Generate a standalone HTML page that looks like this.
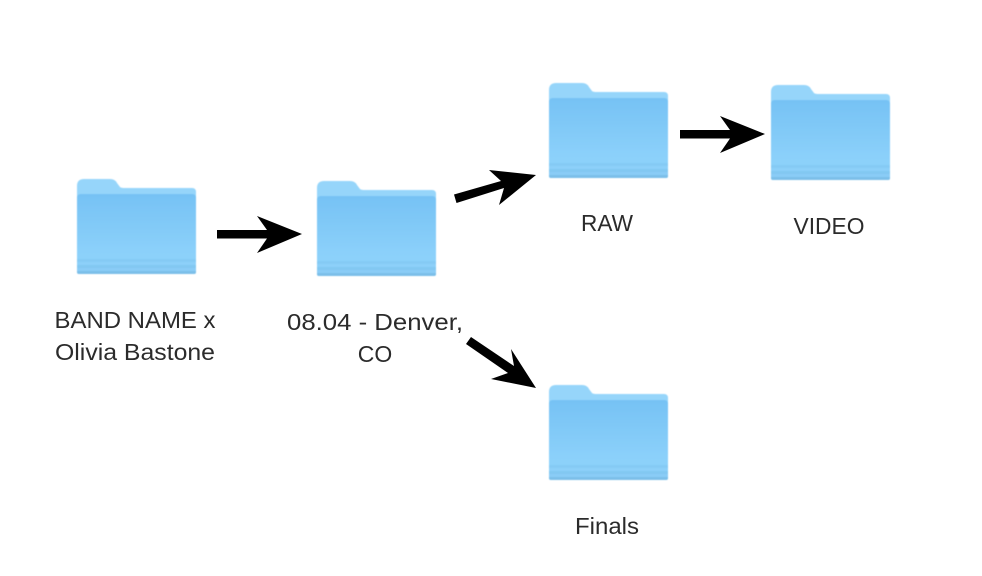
<!DOCTYPE html>
<html>
<head>
<meta charset="utf-8">
<style>
html,body{margin:0;padding:0;background:#fff}
body{width:982px;height:576px;overflow:hidden;position:relative}
svg{position:absolute;left:0;top:0}
text{font-family:"Liberation Sans",sans-serif;font-size:23px;fill:#2b2b2b;text-anchor:middle}
</style>
</head>
<body>
<svg width="982" height="576" viewBox="0 0 982 576" xmlns="http://www.w3.org/2000/svg">
<defs>
<linearGradient id="f" x1="0" y1="0" x2="0" y2="1">
<stop offset="0" stop-color="#76c2f4"/>
<stop offset="0.7" stop-color="#8bd0fa"/>
<stop offset="1" stop-color="#8fd3fb"/>
</linearGradient>
<filter id="soft" x="-5%" y="-5%" width="110%" height="110%">
<feGaussianBlur stdDeviation="0.6"/>
</filter>
<g id="folder" filter="url(#soft)">
<path d="M0 7 Q0 0 7 0 H33 Q38 0 40 4 L43 8 Q44 9 48 9 H115 Q119 9 119 13 V30 H0Z" fill="#96d5fa"/>
<path d="M0 19 Q0 15 4 15 H115 Q119 15 119 19 V93 Q119 95 117 95 H2 Q0 95 0 93Z" fill="url(#f)"/>
<rect x="0" y="80" width="119" height="3" fill="#85caf4"/>
<rect x="0" y="83" width="119" height="3" fill="#8dd0f9"/>
<rect x="0" y="86" width="119" height="3" fill="#82c8f2"/>
<rect x="0" y="89" width="119" height="3" fill="#8accf6"/>
<path d="M0 92 H119 V93 Q119 95 117 95 H2 Q0 95 0 93Z" fill="#7cbfe9"/>
</g>
</defs>
<use href="#folder" x="77" y="179"/>
<use href="#folder" x="317" y="181"/>
<use href="#folder" x="549" y="83"/>
<use href="#folder" x="771" y="85"/>
<use href="#folder" x="549" y="385"/>
<polygon points="217,230 267,230 257,216 302,234 257,253 267,238.5 217,238.5" fill="#000"/>
<polygon points="680,130 730,130 720,116 765,134 720,153 730,138.5 680,138.5" fill="#000"/>
<polygon points="454,194.5 501,181 489,170 536,175 499,205 504,188 456.5,203" fill="#000"/>
<polygon points="471,337 514,366 511,349 536,388 491,379 508,373 466,344" fill="#000"/>
<text x="135" y="328" textLength="161" lengthAdjust="spacingAndGlyphs">BAND NAME x</text>
<text x="135" y="360" textLength="160" lengthAdjust="spacingAndGlyphs">Olivia Bastone</text>
<text x="375" y="330" textLength="176" lengthAdjust="spacingAndGlyphs">08.04 - Denver,</text>
<text x="375" y="362">CO</text>
<text x="607" y="231" textLength="52" lengthAdjust="spacingAndGlyphs">RAW</text>
<text x="829" y="234" textLength="71" lengthAdjust="spacingAndGlyphs">VIDEO</text>
<text x="607" y="534" textLength="64" lengthAdjust="spacingAndGlyphs">Finals</text>
</svg>
</body>
</html>
